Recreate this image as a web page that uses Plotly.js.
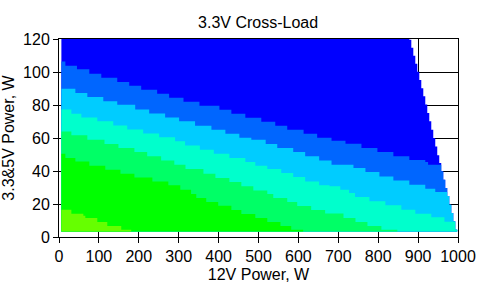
<!DOCTYPE html>
<html>
<head>
<meta charset="utf-8">
<script src="https://cdn.plot.ly/plotly-3.0.1.min.js"></script>
<style>html,body{margin:0;padding:0;background:#fff;}#chart{width:487px;height:286px;}</style>
</head>
<body>
<div id="chart"></div>
<script>
// ---- data ----
const chartTitle = "3.3V Cross-Load";
const xTitle = "12V Power, W";
const yTitle = "3.3&5V Power, W";
const xTicks = [0,100,200,300,400,500,600,700,800,900,1000];
const yTicks = [0,20,40,60,80,100,120];

const xStart = 6;      // left edge of measured area, W
const yBottom = 3.4;   // bottom edge of measured area, W
const yTop = 120;

// right (load-limit) edge: columns x and step breakpoints in y
const edgeX = [878,883,888,893,898,903,908,913,918,923,928,933,938,943,948,953,958,963,968,973,978,983,988,993,998];
const edgeBreaks = [119.6,114.7,109.9,105,100.2,95.2,90.2,85.3,80.3,75.1,70.1,65,60,54.8,49.6,44.8,39.8,34.7,29.7,24.9,19.6,14.5,9.5,4.4];

// band colours, top to bottom
const bandColors = ["#0000FF","#0066FF","#00CCFF","#00FFCC","#00FF66","#00FF00","#66FF00"];

// boundaries between bands (step start x, level y); last y == yBottom means it reaches the bottom
const b1X = [6,16,45,76,106,146,176,206,246,276,312,352,402,432,467,507,542,572,613,647,683,718,758,798,838,878,918,925];
const b1Y = [106.4,103.8,101.6,99,96.5,94,91.7,89.2,86.8,84.4,82,79.5,77.1,74.7,72.3,69.9,67.5,65,62.6,60.2,58.3,56.5,53.9,51.5,48.9,46.6,45.4,43.8];
const b2X = [6,41,71,111,146,191,226,266,301,341,382,417,452,482,518,547,587,617,652,683,738,768,803,838,878,918,943];
const b2Y = [89.9,87.3,84.8,82.2,80.2,77.2,74.9,72.5,70.1,67.5,65,62.6,60.2,59,56.4,53.9,51.5,48.9,46.4,43.8,41.8,39.4,36.7,34.3,31.7,29.3,27.3];
const b3X = [6,31,56,96,136,171,211,251,291,316,353,388,427,467,492,522,557,587,617,652,678,705,727,742,778,818,858,893,933,966];
const b3Y = [77.2,74.7,72.5,70.1,67.6,65.2,62.8,60.4,58,55.5,52.9,50.5,47.9,45.5,43.2,41.2,38.8,36.4,33.7,31.3,30.7,28.7,26.7,24.2,21.6,19.2,16.5,14.1,11.9,9.3];
const b4X = [6,31,71,114,149,189,221,256,289,317,362,392,427,457,487,522,537,572,597,632,667,713,743,773,808,848];
const b4Y = [64,61.6,59,56.4,53.9,51.5,48.9,46.4,43.8,41.2,38.4,35.8,33.3,30.7,28.2,26.1,23.6,21.2,18.8,16.4,14.3,11.5,9.1,6.7,4.4,3.4];
const b5X = [6,16,41,76,116,154,189,234,274,304,331,344,369,399,432,457,492,522,555,582,612];
const b5Y = [50.4,47.9,45.8,43.2,40.8,38.4,36.1,33.7,31.3,28.7,26.1,23.6,21.2,19,16.4,13.9,11.5,9.1,6.7,4.4,3.4];
const b6X = [6,31,61,66,96,121,156,181];
const b6Y = [16.5,14.1,12.9,11.5,9.1,6.7,4.4,3.4];

// ---- geometry helpers (turn the step lists into polygon outlines) ----
function edgeColumn(y){
  for (let k = 0; k < edgeX.length; k++){
    const top = k === 0 ? yTop : edgeBreaks[k-1];
    const bot = k === edgeX.length-1 ? yBottom : edgeBreaks[k];
    if (y > bot && y <= top) return k;
  }
  return edgeX.length-1;
}
function edgeBelow(y, px, py){
  let k = edgeColumn(y);
  px.push(edgeX[k]); py.push(y);
  for (; k < edgeX.length; k++){
    const bot = k === edgeX.length-1 ? yBottom : edgeBreaks[k];
    px.push(edgeX[k]); py.push(bot);
    if (k < edgeX.length-1){ px.push(edgeX[k+1]); py.push(bot); }
  }
}
function bandPolygon(xs, ys){
  const px = [xStart], py = [yBottom];
  for (let i = 0; i < xs.length; i++){
    if (i > 0){ px.push(xs[i]); py.push(ys[i-1]); }
    px.push(xs[i]); py.push(ys[i]);
  }
  const last = ys[ys.length-1];
  if (last > yBottom + 0.01) edgeBelow(last, px, py);
  px.push(xStart); py.push(yBottom);
  return {px, py};
}

const boundaries = [[[xStart],[yTop]],[b1X,b1Y],[b2X,b2Y],[b3X,b3Y],[b4X,b4Y],[b5X,b5Y],[b6X,b6Y]];
const traces = boundaries.map((b, i) => {
  const p = bandPolygon(b[0], b[1]);
  return {type:'scatter', mode:'lines', x:p.px, y:p.py, fill:'toself',
          fillcolor:bandColors[i], line:{width:0, color:bandColors[i]}, hoverinfo:'skip', showlegend:false};
});

const font = {family:"'Liberation Sans', Arial, sans-serif", size:16, color:'#000'};
const axisCommon = {
  showline:true, linecolor:'#000', linewidth:1, mirror:true,
  showgrid:true, gridcolor:'#000', gridwidth:1, zeroline:false,
  ticks:'outside', ticklen:5, tickwidth:1, tickcolor:'#000',
  tickfont:font
};
const layout = {
  width:487, height:286,
  margin:{l:59, r:29, t:39, b:49},
  paper_bgcolor:'#fff', plot_bgcolor:'#fff',
  font:font,
  title:{text:chartTitle, font:font, x:0.53, xanchor:'center', y:0.92, yanchor:'middle', yref:'container'},
  xaxis:Object.assign({}, axisCommon, {range:[0,1000], tickvals:xTicks, ticktext:xTicks.map(String),
        title:{text:xTitle, font:font, standoff:4}}),
  yaxis:Object.assign({}, axisCommon, {range:[0,120], tickvals:yTicks, ticktext:yTicks.map(String),
        title:{text:yTitle, font:font, standoff:4}}),
  showlegend:false
};
Plotly.newPlot('chart', traces, layout, {staticPlot:true, displayModeBar:false});
</script>
</body>
</html>
